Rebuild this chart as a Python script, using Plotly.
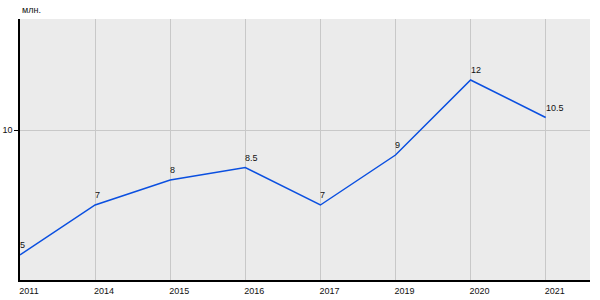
import plotly.graph_objects as go

years = ["2011", "2014", "2015", "2016", "2017", "2019", "2020", "2021"]
values = [5, 7, 8, 8.5, 7, 9, 12, 10.5]
labels = ["5", "7", "8", "8.5", "7", "9", "12", "10.5"]
y_ticks = [10]
unit_label = "млн."

font_family = "Liberation Sans, Arial, sans-serif"

fig = go.Figure()
fig.add_trace(go.Scatter(
    x=years, y=values, mode="lines",
    line=dict(color="#0a4fe0", width=1.5),
    cliponaxis=False, hoverinfo="skip",
))

# category axis: annotation x is the category index
for i, (v, lab) in enumerate(zip(values, labels)):
    fig.add_annotation(
        x=i, y=v, text=lab, showarrow=False,
        xanchor="left", yanchor="bottom", xshift=-2, yshift=3,
        font=dict(family=font_family, size=9, color="#111111"),
    )

fig.update_layout(
    width=600, height=300,
    margin=dict(l=20, r=10, t=19, b=20),
    paper_bgcolor="white", plot_bgcolor="#ebebeb",
    showlegend=False,
    font=dict(family=font_family, size=9, color="#111111"),
)
fig.update_xaxes(
    type="category", range=[0, 7.59], automargin=False,
    showgrid=True, gridcolor="#c8c8c8", gridwidth=1,
    showline=True, linecolor="black", linewidth=1.5,
    ticks="", ticklabelshift=9, ticklabelstandoff=1,
    zeroline=False, fixedrange=True,
)
fig.update_yaxes(
    range=[4, 14.44], tickvals=y_ticks, automargin=False,
    showgrid=True, gridcolor="#c8c8c8", gridwidth=1,
    showline=True, linecolor="black", linewidth=1.5,
    ticks="outside", ticklen=4, tickcolor="black",
    zeroline=False, fixedrange=True,
)
fig.add_annotation(
    text=unit_label, xref="paper", yref="paper", x=0, y=1,
    xanchor="left", yanchor="bottom", yshift=2, showarrow=False,
    font=dict(family=font_family, size=9, color="#111111"),
)

fig.write_html("out.html")
